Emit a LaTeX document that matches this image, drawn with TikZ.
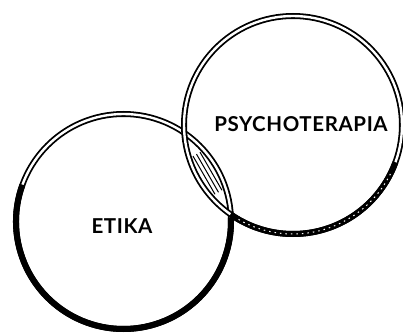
\documentclass[tikz,border=0pt]{standalone}
\usepackage{fontspec}
\setsansfont[LetterSpace=3]{Lato}
\usepackage{tikz}
\usetikzlibrary{positioning}

\begin{document}
\begin{tikzpicture}[x=1bp, y=1bp,
  ring/.style={circle, draw, double=white, line width=1.8bp,
    double distance=2.4bp, outer sep=0pt, inner sep=0pt},
  heavy/.style={line width=6bp},
  speck/.style={white, line width=1bp, dash pattern=on 1.5bp off 4bp},
  stripe/.style={line width=1bp},
  word/.style={font=\sffamily\bfseries\fontsize{20.5bp}{22bp}\selectfont, inner sep=0pt}]
  \useasboundingbox (0,0) rectangle (403,333);

  \node[ring, minimum size=215bp] (etika) at (123.5,111.5) {};
  \node[ring, minimum size=218bp] (psy)   at (293,208) {};

  \draw[heavy] (etika.160) arc[start angle=160, end angle=362, radius=107.5];
  \draw[heavy] (psy.235) arc[start angle=235, end angle=340, radius=109];
  \draw[speck] (psy.240) arc[start angle=240, end angle=335, radius=109];

  \draw[stripe] (193.0,176.9) -- (215.0,138.7);
  \draw[stripe] (196.5,178.9) -- (218.5,140.7);
  \draw[stripe] (200.0,180.9) -- (222.0,142.7);

  \node[word] (etikatext) at (122,107.3) {ETIKA};
  \node[word] (psytext)   at (301,209)   {PSYCHOTERAPIA};
\end{tikzpicture}
\end{document}
